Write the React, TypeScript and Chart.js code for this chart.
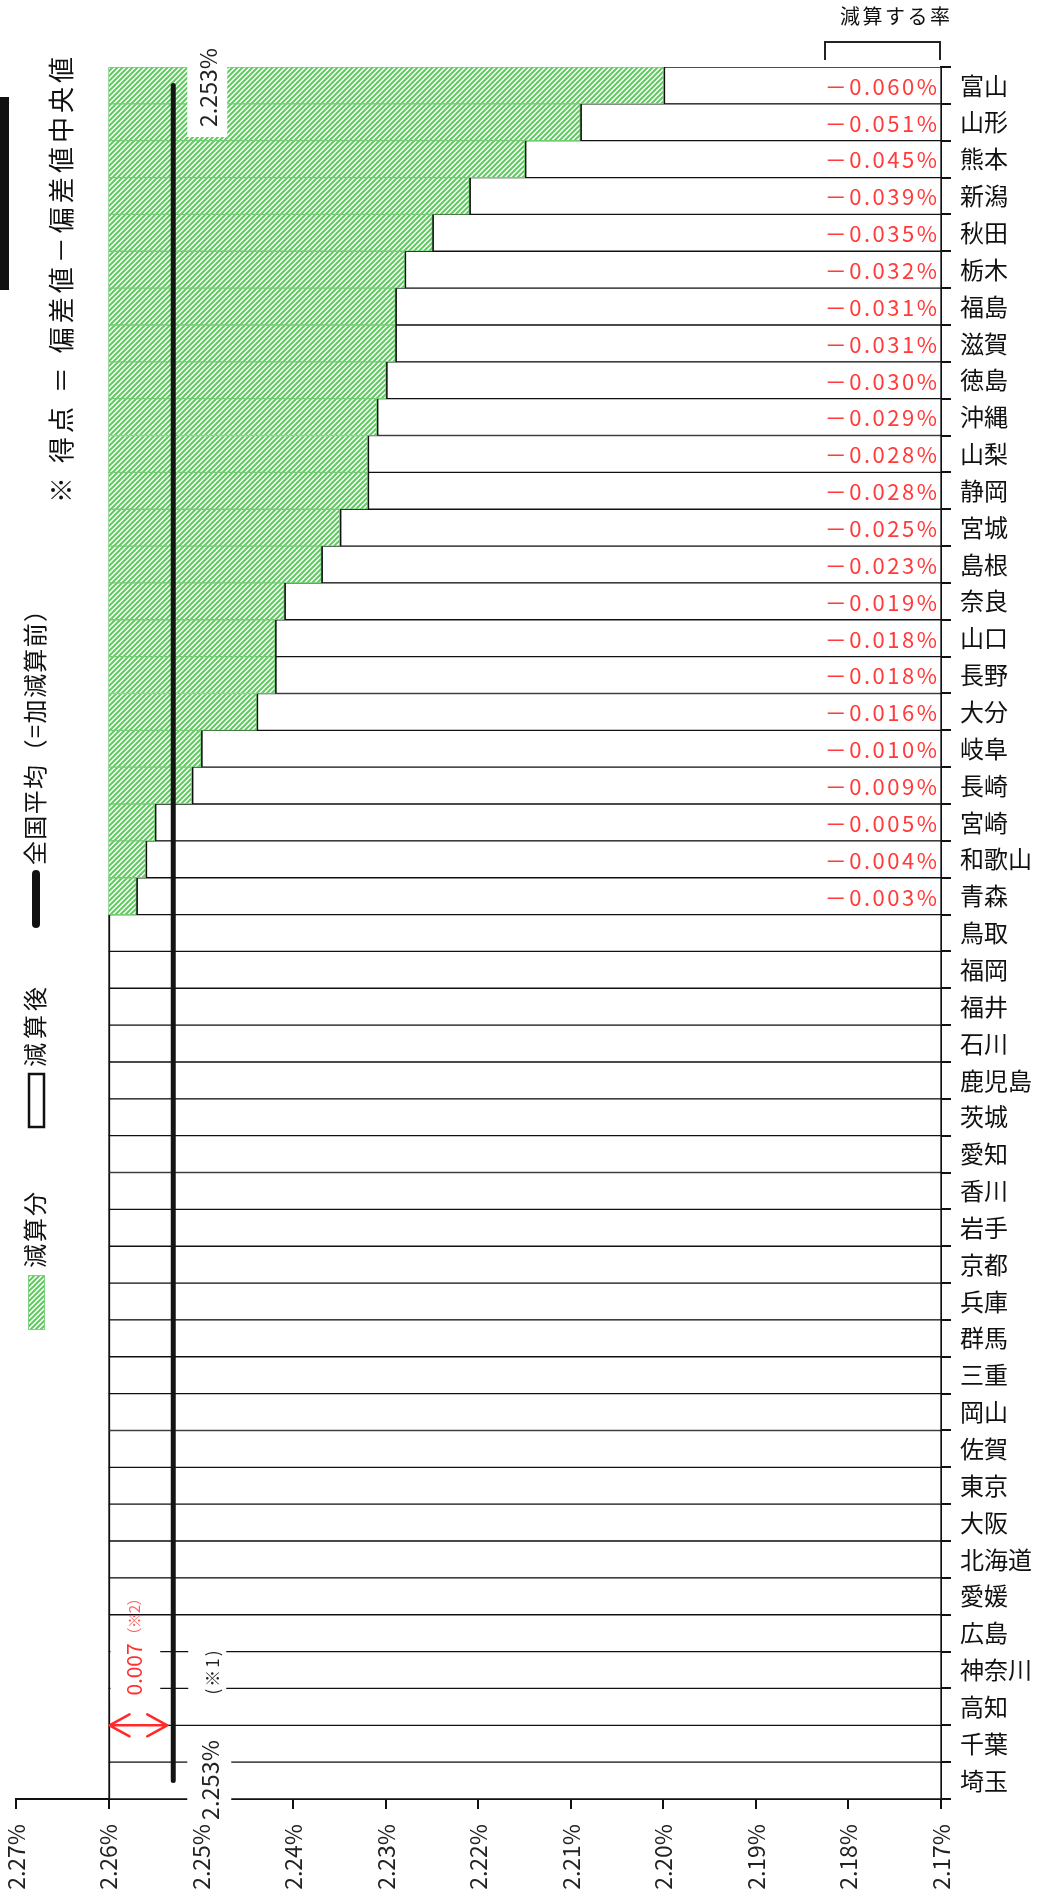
import React, { useEffect, useRef } from 'react';
import { Chart, registerables } from 'chart.js';

Chart.register(...registerables);

// ---- data ----
const PREFECTURES = [
  '富山', '山形', '熊本', '新潟', '秋田', '栃木', '福島', '滋賀', '徳島', '沖縄',
  '山梨', '静岡', '宮城', '島根', '奈良', '山口', '長野', '大分', '岐阜', '長崎',
  '宮崎', '和歌山', '青森', '鳥取', '福岡', '福井', '石川', '鹿児島', '茨城', '愛知',
  '香川', '岩手', '京都', '兵庫', '群馬', '三重', '岡山', '佐賀', '東京', '大阪',
  '北海道', '愛媛', '広島', '神奈川', '高知', '千葉', '埼玉',
];
// reduction (percentage points) applied to each prefecture
const REDUCTION = [
  0.060, 0.051, 0.045, 0.039, 0.035, 0.032, 0.031, 0.031, 0.030, 0.029,
  0.028, 0.028, 0.025, 0.023, 0.019, 0.018, 0.018, 0.016, 0.010, 0.009,
  0.005, 0.004, 0.003, 0, 0, 0, 0, 0, 0, 0,
  0, 0, 0, 0, 0, 0, 0, 0, 0, 0,
  0, 0, 0, 0, 0, 0, 0,
];
const BEFORE_VALUE = 2.26; // value before reduction
const NATIONAL_AVG = 2.253; // 全国平均
const X_TICKS = [2.27, 2.26, 2.25, 2.24, 2.23, 2.22, 2.21, 2.20, 2.19, 2.18, 2.17];
const X_MIN = 2.17;
const X_MAX = 2.27;

const W = 1051;
const H = 1899;
const FONT = "'Noto Sans CJK JP', 'Noto Sans', sans-serif";

function spacedText(ctx: CanvasRenderingContext2D, text: string, x: number, y: number, len?: number) {
  const c = ctx as any;
  c.letterSpacing = '0px';
  if (len) {
    const w = ctx.measureText(text).width;
    const n = Array.from(text).length;
    if (n > 1) c.letterSpacing = `${(len - w) / (n - 1)}px`;
  }
  ctx.fillText(text, x, y);
  c.letterSpacing = '0px';
}

function vText(ctx: CanvasRenderingContext2D, text: string, cx: number, yBottom: number, font: string, color: string, len?: number) {
  ctx.save();
  ctx.translate(cx, yBottom);
  ctx.rotate(-Math.PI / 2);
  ctx.font = font;
  ctx.fillStyle = color;
  ctx.textAlign = 'left';
  ctx.textBaseline = 'middle';
  spacedText(ctx, text, 0, 0, len);
  ctx.restore();
}

function makeHatch(): CanvasPattern | string {
  const s = 5;
  const c = document.createElement('canvas');
  c.width = s;
  c.height = s;
  const g = c.getContext('2d');
  if (!g) return '#9ddc9d';
  g.fillStyle = '#ffffff';
  g.fillRect(0, 0, s, s);
  g.strokeStyle = '#5fcb5f';
  g.lineWidth = 2;
  g.beginPath();
  g.moveTo(-1, s + 1); g.lineTo(s + 1, -1);
  g.moveTo(-1, 1); g.lineTo(1, -1);
  g.moveTo(s - 1, s + 1); g.lineTo(s + 1, s - 1);
  g.stroke();
  return g.createPattern(c, 'repeat') || '#9ddc9d';
}

export default function App() {
  const ref = useRef<HTMLCanvasElement>(null);

  useEffect(() => {
    const canvas = ref.current;
    if (!canvas) return;
    const hatch = makeHatch();

    const afterValues = REDUCTION.map((r) => Number((BEFORE_VALUE - r).toFixed(3)));
    const whiteData = afterValues.map((a) => [X_MIN, a]);
    const greenData = afterValues.map((a, i) => (REDUCTION[i] > 0 ? [a, BEFORE_VALUE] : null));

    const labelsPlugin = {
      id: 'reductionLabels',
      afterDatasetsDraw(chart: any) {
        const { ctx, scales } = chart;
        const x = scales.x;
        const y = scales.y;
        const xr = x.getPixelForValue(X_MIN);
        ctx.save();
        ctx.font = `22px ${FONT}`;
        ctx.fillStyle = '#ff3b3b';
        ctx.textAlign = 'right';
        ctx.textBaseline = 'middle';
        (ctx as any).letterSpacing = '2.5px';
        REDUCTION.forEach((r, i) => {
          if (r <= 0) return;
          ctx.fillText(`－${r.toFixed(3)}%`, xr - 1.5, y.getPixelForValue(i) + 1);
        });
        (ctx as any).letterSpacing = '0px';
        ctx.restore();
      },
    };

    const annotPlugin = {
      id: 'annotations',
      afterDraw(chart: any) {
        const { ctx, scales } = chart;
        const x = scales.x;
        const y = scales.y;
        const avgPx = x.getPixelForValue(NATIONAL_AVG);
        const beforePx = x.getPixelForValue(BEFORE_VALUE);
        const rightPx = x.getPixelForValue(X_MIN);
        const yB = (k: number) => (y.getPixelForValue(k - 1) + y.getPixelForValue(k)) / 2;
        const n = PREFECTURES.length;
        ctx.save();

        // header note
        vText(ctx, '※ 得点 ＝ 偏差値－偏差値中央値', 61, 503, `26px ${FONT}`, '#111', 446);

        // legend: national average line
        ctx.strokeStyle = '#111';
        ctx.lineWidth = 8;
        ctx.lineCap = 'round';
        ctx.beginPath();
        ctx.moveTo(36, 924);
        ctx.lineTo(36, 874);
        ctx.stroke();
        vText(ctx, '全国平均（=加減算前）', 35, 865, `24px ${FONT}`, '#111', 267);

        // legend: after reduction
        ctx.lineCap = 'butt';
        ctx.fillStyle = '#fff';
        ctx.fillRect(29, 1074, 15, 53);
        ctx.strokeStyle = '#111';
        ctx.lineWidth = 2.5;
        ctx.strokeRect(29, 1074, 15, 53);
        vText(ctx, '減算後', 35, 1067, `24px ${FONT}`, '#111', 80);

        // legend: reduction
        ctx.fillStyle = hatch as any;
        ctx.fillRect(28, 1275, 17, 55);
        ctx.strokeStyle = '#7fd27f';
        ctx.lineWidth = 1;
        ctx.strokeRect(28.5, 1275.5, 16, 54);
        vText(ctx, '減算分', 35, 1268, `24px ${FONT}`, '#111', 76);

        // cut-off mark on the left edge
        ctx.fillStyle = '#111';
        ctx.fillRect(0, 97, 9, 193);

        // top right caption + bracket
        ctx.fillStyle = '#111';
        ctx.font = `20px ${FONT}`;
        ctx.textAlign = 'left';
        ctx.textBaseline = 'middle';
        spacedText(ctx, '減算する率', rightPx - 101, 16, 110);
        ctx.strokeStyle = '#222';
        ctx.lineWidth = 2;
        ctx.beginPath();
        ctx.moveTo(rightPx - 116, 60);
        ctx.lineTo(rightPx - 116, 42);
        ctx.lineTo(rightPx - 1, 42);
        ctx.lineTo(rightPx - 1, 60);
        ctx.stroke();

        // 2.253% labels (top and bottom)
        ctx.fillStyle = '#fff';
        ctx.fillRect(avgPx + 14, 40, 40, 97);
        vText(ctx, '2.253%', avgPx + 35, 127, `23px ${FONT}`, '#222', 79);
        ctx.fillStyle = '#fff';
        ctx.fillRect(avgPx + 14, 1735, 44, 88);
        vText(ctx, '2.253%', avgPx + 37, 1820, `23px ${FONT}`, '#222', 80);

        // (※1) note
        const b43 = yB(n - 4);
        const b44 = yB(n - 3);
        ctx.fillStyle = '#fff';
        ctx.fillRect(avgPx + 15, b43 - 12, 38, b44 - b43 + 24);
        vText(ctx, '(※1)', avgPx + 39, b44 + 6, `17px ${FONT}`, '#222', 44);

        // 0.007 (※2) note + arrow
        ctx.fillStyle = '#fff';
        ctx.fillRect(beforePx + 2, b43 - 12, avgPx - beforePx - 15, b44 - b43 + 24);
        vText(ctx, '0.007', beforePx + 26, b44 + 7, `21px ${FONT}`, '#ff3030', 52);
        vText(ctx, '（※2）', beforePx + 26, b44 - 46, `15px ${FONT}`, '#ff5a5a', 52);
        const ya = yB(n - 2);
        const x1 = beforePx + 1;
        const x2 = avgPx - 6;
        ctx.strokeStyle = '#ff2a2a';
        ctx.lineWidth = 2.5;
        ctx.lineCap = 'round';
        ctx.lineJoin = 'round';
        ctx.beginPath();
        ctx.moveTo(x1, ya);
        ctx.lineTo(x2, ya);
        ctx.moveTo(x1 + 20, ya - 11);
        ctx.lineTo(x1, ya);
        ctx.lineTo(x1 + 20, ya + 11);
        ctx.moveTo(x2 - 20, ya - 11);
        ctx.lineTo(x2, ya);
        ctx.lineTo(x2 - 20, ya + 11);
        ctx.stroke();

        ctx.restore();
      },
    };

    const chart = new Chart(canvas, {
      type: 'bar',
      data: {
        labels: PREFECTURES,
        datasets: [
          {
            type: 'line',
            label: '全国平均（=加減算前）',
            data: [
              { x: NATIONAL_AVG, y: PREFECTURES[0] },
              { x: NATIONAL_AVG, y: PREFECTURES[PREFECTURES.length - 1] },
            ] as any,
            indexAxis: 'y',
            borderColor: '#141414',
            borderWidth: 5,
            borderCapStyle: 'round',
            pointRadius: 0,
            tension: 0,
            order: 0,
          } as any,
          {
            type: 'bar',
            label: '減算分',
            data: greenData as any,
            backgroundColor: hatch as any,
            borderColor: '#72cc72',
            borderWidth: 1,
            borderSkipped: false,
            grouped: false,
            barPercentage: 1,
            categoryPercentage: 1,
            order: 1,
          } as any,
          {
            type: 'bar',
            label: '減算後',
            data: whiteData as any,
            backgroundColor: '#ffffff',
            borderColor: '#111',
            borderWidth: { top: 1, bottom: 1, left: 2, right: 1 },
            borderSkipped: false,
            grouped: false,
            barPercentage: 1,
            categoryPercentage: 1,
            order: 2,
          } as any,
        ],
      },
      options: {
        indexAxis: 'y',
        responsive: false,
        animation: false,
        devicePixelRatio: 1,
        events: [],
        layout: { padding: { left: 16, top: 67, right: 0, bottom: 0 } },
        plugins: { legend: { display: false }, tooltip: { enabled: false } },
        scales: {
          x: {
            type: 'linear',
            position: 'bottom',
            reverse: true,
            min: X_MIN,
            max: X_MAX,
            afterBuildTicks: (s: any) => {
              s.ticks = X_TICKS.map((v) => ({ value: v }));
            },
            afterFit: (s: any) => {
              s.height = 100;
            },
            ticks: {
              autoSkip: false,
              minRotation: 90,
              maxRotation: 90,
              padding: 15,
              color: '#222',
              font: { size: 23, family: FONT },
              callback: (v: any) => `${Number(v).toFixed(2)}%`,
            },
            grid: { drawOnChartArea: false, drawTicks: true, tickLength: 10, color: '#111', lineWidth: 2 },
            border: { display: true, color: '#111', width: 2 },
          },
          y: {
            type: 'category',
            position: 'right',
            offset: true,
            afterFit: (s: any) => {
              s.width = 110;
            },
            ticks: {
              autoSkip: false,
              padding: 9,
              color: '#111',
              font: { size: 24, family: FONT },
            },
            grid: { offset: true, drawOnChartArea: false, drawTicks: true, tickLength: 10, color: '#111', lineWidth: 2 },
            border: { display: true, color: '#111', width: 2 },
          },
        },
      } as any,
      plugins: [labelsPlugin, annotPlugin],
    });

    return () => chart.destroy();
  }, []);

  return (
    <div style={{ position: 'absolute', left: 0, top: 0, width: W, height: H, background: '#fff' }}>
      <canvas ref={ref} width={W} height={H} style={{ width: W, height: H, display: 'block' }} />
    </div>
  );
}
